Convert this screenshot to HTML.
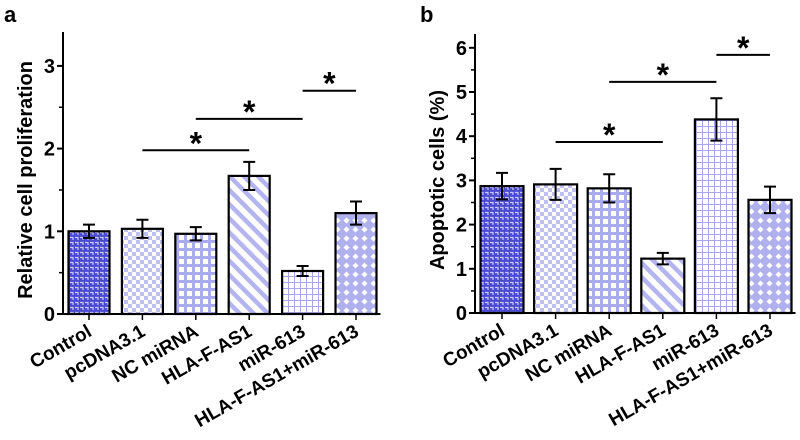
<!DOCTYPE html>
<html><head><meta charset="utf-8"><style>
body{margin:0;background:#fff}
svg{display:block;font-family:"Liberation Sans",Arial,sans-serif;font-weight:bold}
</style></head><body>
<svg id="chart" width="800" height="440" viewBox="0 0 800 440">
<defs>
<pattern id="p0" width="5" height="5" patternUnits="userSpaceOnUse"><rect width="5" height="5" fill="#4a4ad0"/><path d="M0 2.5h3v2.5" stroke="#c8c8f4" stroke-width="1.2" fill="none"/></pattern>
<pattern id="p1" width="8" height="8" patternUnits="userSpaceOnUse"><rect width="8" height="8" fill="#fff"/><rect width="4" height="4" fill="#c0c0f0"/><rect x="4" y="4" width="4" height="4" fill="#c0c0f0"/></pattern>
<pattern id="p2" width="8" height="8" patternUnits="userSpaceOnUse"><rect width="8" height="8" fill="#fff"/><path d="M0 1.5h8M1.5 0v8" stroke="#aaaaee" stroke-width="3"/></pattern>
<pattern id="p3" width="10" height="10" patternUnits="userSpaceOnUse" patternTransform="rotate(45)"><rect width="10" height="10" fill="#fff"/><rect width="10" height="4.5" fill="#b4b4f0"/></pattern>
<pattern id="p4" width="6" height="6" patternUnits="userSpaceOnUse"><rect width="6" height="6" fill="#fff"/><path d="M0 0.5h6M0.5 0v6" stroke="#a8a8e8" stroke-width="1"/></pattern>
<pattern id="p5" width="9" height="9" patternUnits="userSpaceOnUse"><rect width="9" height="9" fill="#b0b0ee"/><path d="M4.5 1.5l3 3-3 3-3-3z" fill="#fff"/></pattern>
</defs>
<g id="A"></g><g id="B"></g>
</svg>
<script>
const categories=["Control","pcDNA3.1","NC miRNA","HLA-F-AS1","miR-613","HLA-F-AS1+miR-613"];
const valuesA=[1.0,1.03,0.97,1.67,0.52,1.22];
const errA=[0.08,0.11,0.08,0.17,0.06,0.14];
const valuesB=[2.87,2.91,2.82,1.23,4.38,2.56];
const errB=[0.3,0.35,0.32,0.13,0.48,0.3];
const ticksA=[0,1,2,3];
const ticksB=[0,1,2,3,4,5,6];
const sigA=[[1,3,1.98],[2,4,2.36],[4,5,2.7]];
const sigB=[[1,3,3.87],[2,4,5.23],[4,5,5.84]];
const NS="http://www.w3.org/2000/svg";
function mk(p,t,a){const e=document.createElementNS(NS,t);for(const k in a)e.setAttribute(k,a[k]);p.appendChild(e);return e;}
function panel(g,cfg){
 const y=v=>cfg.y0-v*cfg.k, x=i=>cfg.x0+i*cfg.dx;
 const ax=mk(g,'path',{d:`M${cfg.ax} ${cfg.top}V${cfg.y0}H${x(5)+cfg.bw/2+4}`,stroke:'#000','stroke-width':2,fill:'none'});
 
 cfg.ticks.forEach(t=>{
  mk(g,'line',{x1:cfg.ax-6,x2:cfg.ax,y1:y(t),y2:y(t),stroke:'#000','stroke-width':2});
  if(t<cfg.ticks[cfg.ticks.length-1]) mk(g,'line',{x1:cfg.ax-4,x2:cfg.ax,y1:y(t+0.5),y2:y(t+0.5),stroke:'#000','stroke-width':1.5});
  const tl=mk(g,'text',{x:cfg.ax-8,y:y(t)+7,'text-anchor':'end','font-size':20});tl.textContent=t;
  
 });
 cfg.vals.forEach((v,i)=>{
  const b=mk(g,'rect',{x:x(i)-cfg.bw/2,y:y(v),width:cfg.bw,height:cfg.y0-y(v),fill:`url(#p${i})`,stroke:'#000','stroke-width':2.2});
  
  
  const e=cfg.err[i];
  const eb=mk(g,'path',{d:`M${x(i)} ${y(v+e)}V${y(v-e)}M${x(i)-6} ${y(v+e)}h12M${x(i)-6} ${y(v-e)}h12`,stroke:'#000','stroke-width':2,fill:'none'});
  
  mk(g,'line',{x1:x(i),x2:x(i),y1:cfg.y0,y2:cfg.y0+6,stroke:'#000','stroke-width':1.5});
  const lx=x(i)+4, ly=cfg.y0+21;
  const tl=mk(g,'text',{x:lx,y:ly,'text-anchor':'end','font-size':19,transform:`rotate(-30 ${lx} ${ly})`});
  tl.textContent=categories[i];
  
 });
 cfg.sig.forEach(s=>{
  const l=mk(g,'line',{x1:x(s[0]),x2:x(s[1]),y1:y(s[2]),y2:y(s[2]),stroke:'#000','stroke-width':2});
  
  const st=mk(g,'text',{x:(x(s[0])+x(s[1]))/2,y:y(s[2])+4,'text-anchor':'middle','font-size':32});st.textContent='*';
  
 });
 const tt=mk(g,'text',{x:cfg.tx,y:cfg.ty,'text-anchor':'middle','font-size':cfg.tfs,transform:`rotate(-90 ${cfg.tx} ${cfg.ty})`});tt.textContent=cfg.title;
 
 const pl=mk(g,'text',{x:cfg.lx,y:22,'font-size':22});pl.textContent=cfg.letter;
 
}
panel(document.getElementById('A'),{x0:89,dx:53.4,bw:41,y0:314,k:82.7,ax:63,top:32,ticks:ticksA,vals:valuesA,err:errA,sig:sigA,title:'Relative cell proliferation',tx:32,ty:180,tfs:20,letter:'a',lx:4});
panel(document.getElementById('B'),{x0:502,dx:53.6,bw:43,y0:313,k:44.2,ax:475,top:34,ticks:ticksB,vals:valuesB,err:errB,sig:sigB,title:'Apoptotic cells (%)',tx:444,ty:180,tfs:20,letter:'b',lx:420});
</script>
</body></html>
